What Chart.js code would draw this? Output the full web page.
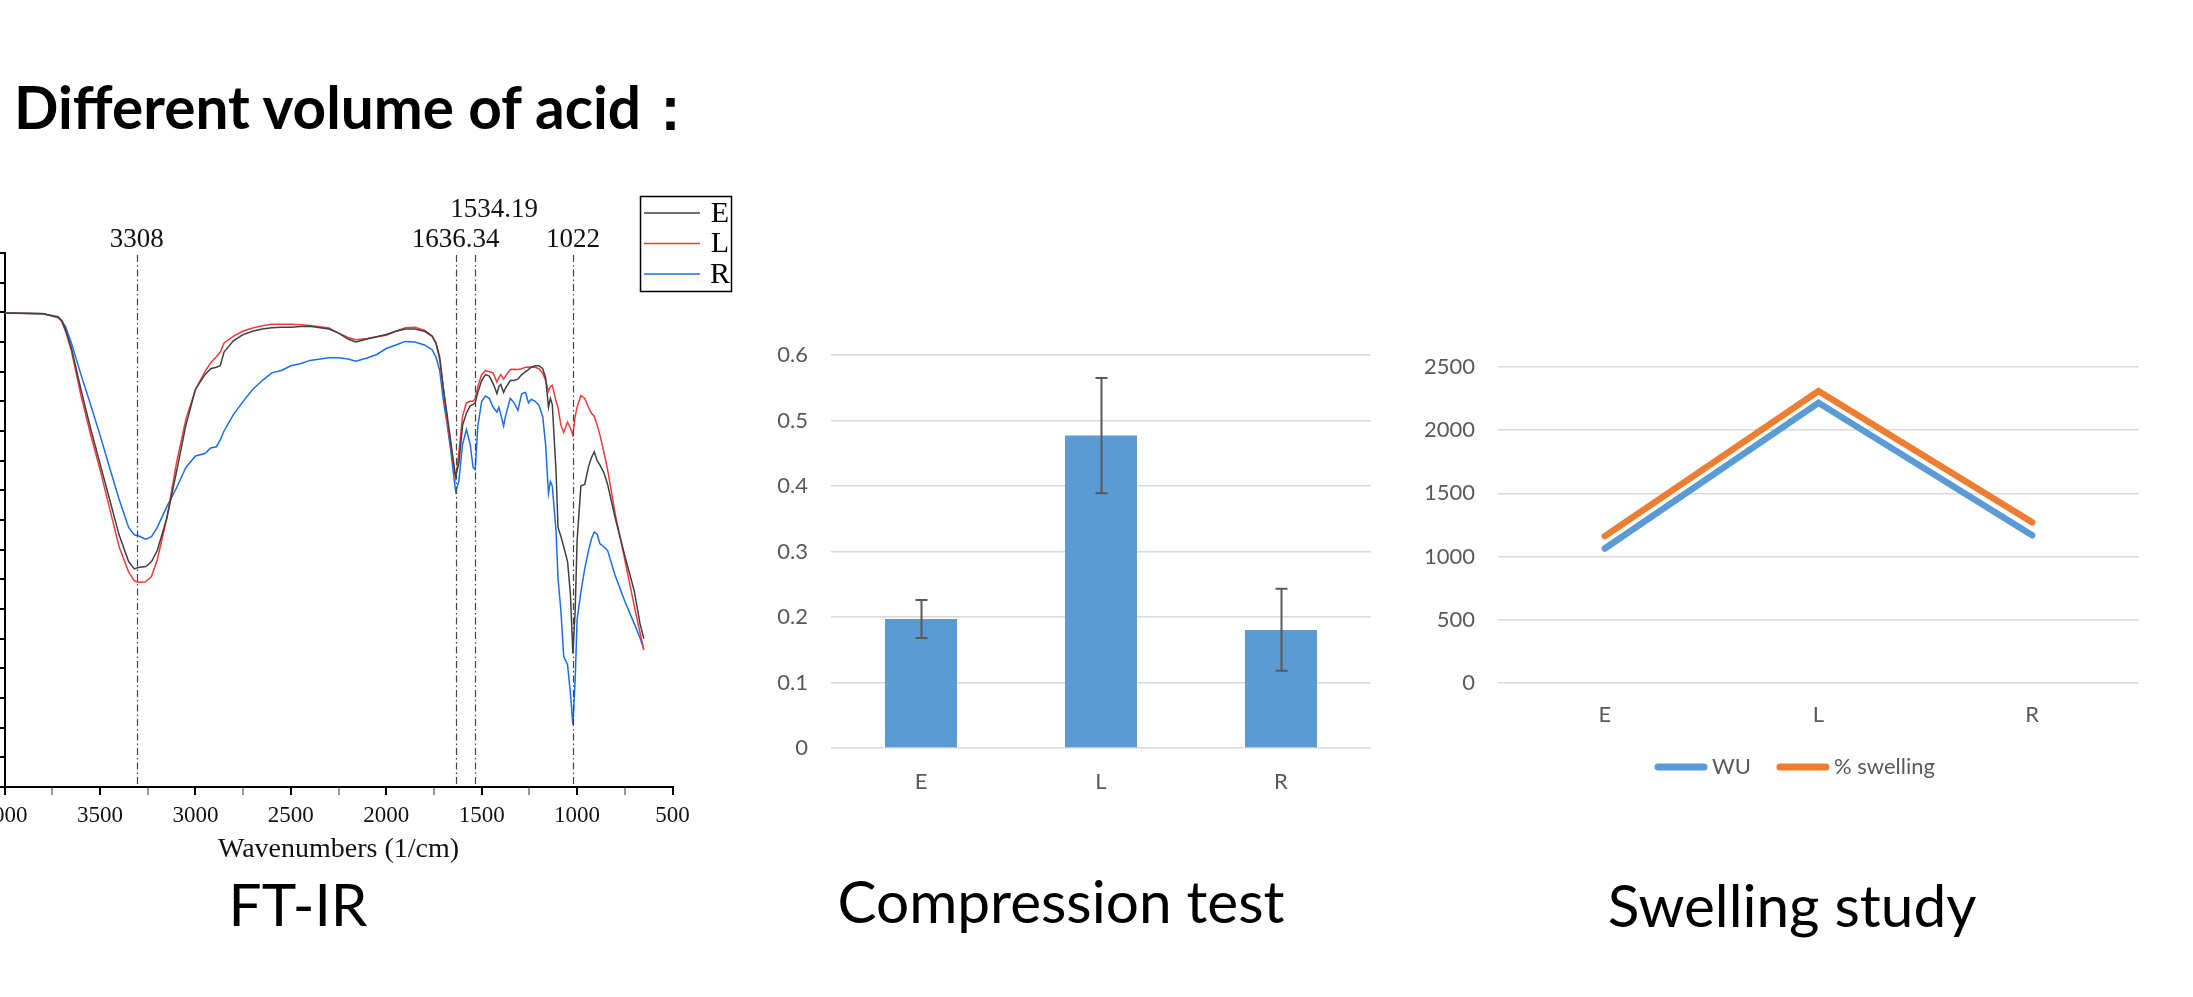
<!DOCTYPE html>
<html>
<head>
<meta charset="utf-8">
<script src="https://cdn.jsdelivr.net/npm/chart.js@4.4.0/dist/chart.umd.min.js"></script>
<style>
  html, body { margin:0; padding:0; background:#fff; }
  body { width:2193px; height:997px; overflow:hidden; position:relative; font-family: Lato, "Noto Sans", sans-serif; }
  canvas { position:absolute; }
  .txt { position:absolute; white-space:nowrap; color:#000; line-height:1.2; }
  #title { left:14px; top:71px; font-size:58.5px; font-weight:700; }
  .cap { font-size:58.5px; transform:translateX(-50%); }
</style>
</head>
<body>
<div id="title" class="txt">Different volume of acid：</div>
<canvas id="ftir" width="800" height="740" style="left:-60px;top:150px;width:800px;height:740px"></canvas>
<canvas id="comp" width="660" height="520" style="left:740px;top:300px;width:660px;height:520px"></canvas>
<canvas id="swell" width="790" height="520" style="left:1400px;top:300px;width:790px;height:520px"></canvas>
<div class="txt cap" style="left:298px;top:868px">FT-IR</div>
<div class="txt cap" style="left:1061px;top:865px">Compression test</div>
<div class="txt cap" style="left:1792px;top:869px">Swelling study</div>
<script>
// ---------------- FT-IR data (transmittance in axis-tick units) ----------------
const wavenumbers = [4000,3800,3720,3700,3680,3650,3600,3550,3500,3450,3400,3350,3320,3300,3260,3230,3200,3150,3100,3050,
  3000,2950,2920,2890,2870,2850,2800,2750,2700,2650,2600,2550,2500,2450,2400,2300,2250,2200,2160,2100,
  2050,2000,1950,1900,1850,1800,1760,1740,1720,1700,1680,1660,1640,1636,1620,1600,1580,1560,1545,1534,
  1520,1500,1480,1460,1440,1420,1410,1400,1385,1375,1350,1330,1310,1290,1270,1255,1240,1220,1200,1180,
  1165,1150,1140,1130,1110,1100,1085,1070,1050,1035,1022,1010,1000,980,960,940,925,910,895,880,
  860,840,800,750,700,670,650];
const transE = [15.98,15.95,15.85,15.72,15.4,14.8,13.4,12.1,10.9,9.7,8.5,7.6,7.35,7.4,7.43,7.6,7.97,9.06,10.6,12.2,
  13.4,13.9,14.1,14.15,14.2,14.66,15.05,15.25,15.36,15.44,15.48,15.5,15.5,15.52,15.53,15.44,15.3,15.1,15.0,15.1,
  15.18,15.25,15.36,15.44,15.44,15.36,15.2,14.97,14.5,13.4,12.5,11.55,10.6,10.5,10.9,12.2,12.6,12.85,12.9,12.95,
  13.3,13.7,13.9,13.85,13.6,13.26,13.5,13.57,13.3,13.45,13.7,13.7,13.75,13.9,14.0,14.07,14.15,14.2,14.2,14.1,
  13.8,12.8,13.1,12.9,10.6,8.75,8.45,8.1,7.6,6.5,4.5,5.95,8.3,10.15,10.2,10.8,11.1,11.3,11.0,10.85,
  10.6,10.2,9.06,7.8,6.6,5.5,5.0];
const transL = [15.98,15.95,15.83,15.68,15.35,14.7,13.2,11.9,10.7,9.4,8.1,7.25,6.95,6.9,6.92,7.1,7.66,9.06,10.9,12.4,
  13.4,14.0,14.3,14.5,14.66,14.97,15.2,15.37,15.47,15.55,15.6,15.6,15.6,15.58,15.56,15.47,15.3,15.15,15.08,15.12,
  15.18,15.23,15.36,15.48,15.5,15.4,15.2,14.97,14.4,13.4,12.3,11.4,10.54,10.4,11.24,12.5,12.95,13.0,13.0,13.1,
  13.5,13.9,14.04,14.0,13.96,13.65,13.8,13.9,13.75,13.85,14.07,14.08,14.07,14.1,14.15,14.16,14.15,14.15,14.1,13.95,
  13.7,13.34,13.5,13.54,13.0,12.8,12.2,11.95,12.3,12.1,11.86,12.5,12.8,13.2,13.1,12.8,12.6,12.5,12.2,11.86,
  11.3,10.7,9.2,7.66,6.1,5.2,4.63];
const transR = [15.98,15.96,15.82,15.72,15.5,14.97,13.9,12.9,11.86,10.77,9.7,8.75,8.5,8.47,8.35,8.44,8.75,9.45,10.07,10.77,
  11.16,11.24,11.43,11.47,11.7,12.0,12.56,13.0,13.4,13.7,13.96,14.04,14.2,14.27,14.38,14.47,14.47,14.43,14.35,14.46,
  14.58,14.78,14.9,15.02,15.0,14.9,14.74,14.5,14.04,13.0,12.17,11.24,10.15,9.96,10.3,11.55,12.05,11.55,10.77,10.7,
  12.17,13.0,13.18,13.1,12.8,12.64,12.8,12.56,12.17,12.5,13.1,12.95,12.7,13.26,13.3,12.95,13.07,13.0,12.87,12.48,
  11.55,9.9,10.3,10.15,8.6,7.04,5.95,4.4,4.12,3.16,2.1,3.62,5.64,6.58,7.35,7.97,8.36,8.6,8.52,8.2,
  8.1,7.97,7.12,6.26,5.5,5.02,4.63];
const ftirSeries = ['E','L','R'];
const peakPositions = [3308, 1636.34, 1534.19, 1022];
const peakLabels = ['3308', '1636.34', '1534.19', '1022'];

// ---------------- Compression test ----------------
const compCategories = ['E','L','R'];
const compValues = [0.197, 0.477, 0.180];
const compErrUp = [0.029, 0.088, 0.063];
const compErrDown = [0.029, 0.088, 0.062];

// ---------------- Swelling study ----------------
const swellCategories = ['E','L','R'];
const wuValues = [1064, 2217, 1169];
const swellingValues = [1162, 2310, 1272];

// ================= FT-IR chart =================
const ftirColors = ['#404040', '#f03c3c', '#1a6fe8'];
const serif = '"Liberation Serif", "DejaVu Serif", serif';
const peakStyle = [ {dx:0, dy:90}, {dx:0, dy:90}, {dx:19, dy:60}, {dx:0, dy:90} ];

const ftirPlugin = {
  id: 'ftirAnnot',
  afterDatasetsDraw(chart) {
    const ctx = chart.ctx, xs = chart.scales.x, area = chart.chartArea;
    ctx.save();
    ctx.strokeStyle = '#444'; ctx.lineWidth = 1.2; ctx.setLineDash([7,3,1.5,3]);
    peakPositions.forEach(p => {
      const px = Math.round(xs.getPixelForValue(p)) + 0.5;
      ctx.beginPath(); ctx.moveTo(px, area.top + 2); ctx.lineTo(px, area.bottom); ctx.stroke();
    });
    ctx.setLineDash([]);
    ctx.fillStyle = '#111'; ctx.font = '27px ' + serif; ctx.textAlign = 'center'; ctx.textBaseline = 'middle';
    peakPositions.forEach((p, i) => {
      const px = xs.getPixelForValue(p) + peakStyle[i].dx;
      ctx.fillText(peakLabels[i], px, peakStyle[i].dy);
    });
    const bx = 700, by = 46, bw = 91, bh = 95;
    ctx.strokeStyle = '#000'; ctx.lineWidth = 1.5;
    ctx.strokeRect(bx + 0.5, by + 0.5, bw, bh);
    chart.data.datasets.forEach((ds, i) => {
      const ly = by + 17 + i * 30.5;
      ctx.strokeStyle = ds.borderColor; ctx.lineWidth = 1.6;
      ctx.beginPath(); ctx.moveTo(bx + 4, ly); ctx.lineTo(bx + 60, ly); ctx.stroke();
      ctx.fillStyle = '#000'; ctx.font = '30px ' + serif; ctx.textAlign = 'center';
      ctx.fillText(ds.label, bx + 80, ly + 1);
    });
    ctx.restore();
  }
};

new Chart(document.getElementById('ftir'), {
  type: 'line',
  data: {
    datasets: ftirSeries.map((name, k) => ({
      label: name,
      data: wavenumbers.map((w, i) => ({ x: w, y: [transE, transL, transR][k][i] })),
      borderColor: ftirColors[k], borderWidth: 1.5, pointRadius: 0, tension: 0, fill: false
    }))
  },
  options: {
    responsive: false, animation: false, events: [],
    layout: { padding: { left: 0, right: 67.5, top: 103, bottom: 23.2 } },
    plugins: { legend: { display: false }, tooltip: { enabled: false } },
    scales: {
      x: {
        type: 'linear', reverse: true, min: 500, max: 4000,
        afterFit: s => { s.height = 79.8; },
        ticks: { stepSize: 250, autoSkip: false, maxRotation: 0, maxTicksLimit: 100, padding: 7.5,
          color: '#111', font: { family: serif, size: 23 },
          callback: v => (v % 500 === 0 ? String(v) : '') },
        grid: { drawOnChartArea: false, drawTicks: true, tickLength: 8, lineWidth: 2,
          tickColor: c => (c.tick && c.tick.value % 500 === 0 ? '#000' : '#999') },
        border: { display: true, color: '#000', width: 2 },
        title: { display: true, text: 'Wavenumbers (1/cm)', color: '#111', font: { family: serif, size: 28 }, padding: 0 }
      },
      y: {
        min: 0, max: 18,
        afterFit: s => { s.width = 64.6; },
        ticks: { display: false, stepSize: 1, maxTicksLimit: 100 },
        grid: { drawOnChartArea: false, drawTicks: true, tickLength: 6, lineWidth: 2, tickColor: '#000' },
        border: { display: true, color: '#000', width: 2 }
      }
    }
  },
  plugins: [ftirPlugin]
});

// ================= Compression test =================
const excelFont = 'Lato, "Noto Sans", sans-serif';
const errorBarPlugin = {
  id: 'errorBars',
  afterDatasetsDraw(chart) {
    const ctx = chart.ctx, ys = chart.scales.y, meta = chart.getDatasetMeta(0);
    ctx.save();
    ctx.strokeStyle = '#595959'; ctx.lineWidth = 2;
    meta.data.forEach((bar, i) => {
      const v = compValues[i];
      const x = Math.round(bar.x) + 0.5;
      const t = ys.getPixelForValue(v + compErrUp[i]);
      const b = ys.getPixelForValue(v - compErrDown[i]);
      ctx.beginPath();
      ctx.moveTo(x, t); ctx.lineTo(x, b);
      ctx.moveTo(x - 6, t); ctx.lineTo(x + 6, t);
      ctx.moveTo(x - 6, b); ctx.lineTo(x + 6, b);
      ctx.stroke();
    });
    ctx.restore();
  }
};

new Chart(document.getElementById('comp'), {
  type: 'bar',
  data: { labels: compCategories,
    datasets: [{ label: 'Compression', data: compValues, backgroundColor: '#5b9bd5', borderWidth: 0,
      barPercentage: 0.4, categoryPercentage: 1.0 }] },
  options: {
    responsive: false, animation: false, events: [],
    layout: { padding: { left: 0, right: 29, top: 55, bottom: 22 } },
    plugins: { legend: { display: false }, tooltip: { enabled: false } },
    scales: {
      x: {
        afterFit: s => { s.height = 50; },
        grid: { display: false }, border: { display: false },
        ticks: { padding: 13, color: '#595959', font: { family: excelFont, size: 22 } }
      },
      y: {
        min: 0, max: 0.6,
        afterFit: s => { s.width = 91; },
        ticks: { stepSize: 0.1, padding: 23, color: '#595959', font: { family: excelFont, size: 22 },
          callback: v => String(Math.round(v * 10) / 10) },
        grid: { color: '#d9d9d9', lineWidth: 1.5, drawTicks: false },
        border: { display: false }
      }
    }
  },
  plugins: [errorBarPlugin]
});

// ================= Swelling study =================
const swellLegendPlugin = {
  id: 'swellLegend',
  afterDraw(chart) {
    const ctx = chart.ctx;
    ctx.save();
    ctx.font = '22px ' + excelFont; ctx.textBaseline = 'middle'; ctx.textAlign = 'left';
    let x = 255; const y = 467;
    chart.data.datasets.forEach(ds => {
      ctx.strokeStyle = ds.borderColor; ctx.lineWidth = 7; ctx.lineCap = 'round';
      ctx.beginPath(); ctx.moveTo(x + 3, y); ctx.lineTo(x + 49, y); ctx.stroke();
      x += 57;
      ctx.fillStyle = '#595959';
      ctx.fillText(ds.label, x, y);
      x += ctx.measureText(ds.label).width + 26;
    });
    ctx.restore();
  }
};

new Chart(document.getElementById('swell'), {
  type: 'line',
  data: { labels: swellCategories,
    datasets: [
      { label: 'WU', data: wuValues, borderColor: '#5b9bd5', backgroundColor: '#5b9bd5', borderWidth: 6.5,
        pointRadius: 0, borderCapStyle: 'round', borderJoinStyle: 'miter', tension: 0 },
      { label: '% swelling', data: swellingValues, borderColor: '#ed7d31', backgroundColor: '#ed7d31', borderWidth: 6.5,
        pointRadius: 0, borderCapStyle: 'round', borderJoinStyle: 'miter', tension: 0 }
    ] },
  options: {
    responsive: false, animation: false, events: [],
    layout: { padding: { left: 0, right: 51, top: 67, bottom: 90 } },
    plugins: { tooltip: { enabled: false }, legend: { display: false } },
    scales: {
      x: {
        offset: true,
        afterFit: s => { s.height = 47; },
        grid: { display: false }, border: { display: false },
        ticks: { padding: 11, color: '#595959', font: { family: excelFont, size: 22 } }
      },
      y: {
        min: 0, max: 2500,
        afterFit: s => { s.width = 98; },
        ticks: { stepSize: 500, padding: 23, color: '#595959', font: { family: excelFont, size: 22 },
          callback: v => String(v) },
        grid: { color: '#d9d9d9', lineWidth: 1.5, drawTicks: false },
        border: { display: false }
      }
    }
  },
  plugins: [swellLegendPlugin]
});
</script>
</body>
</html>
